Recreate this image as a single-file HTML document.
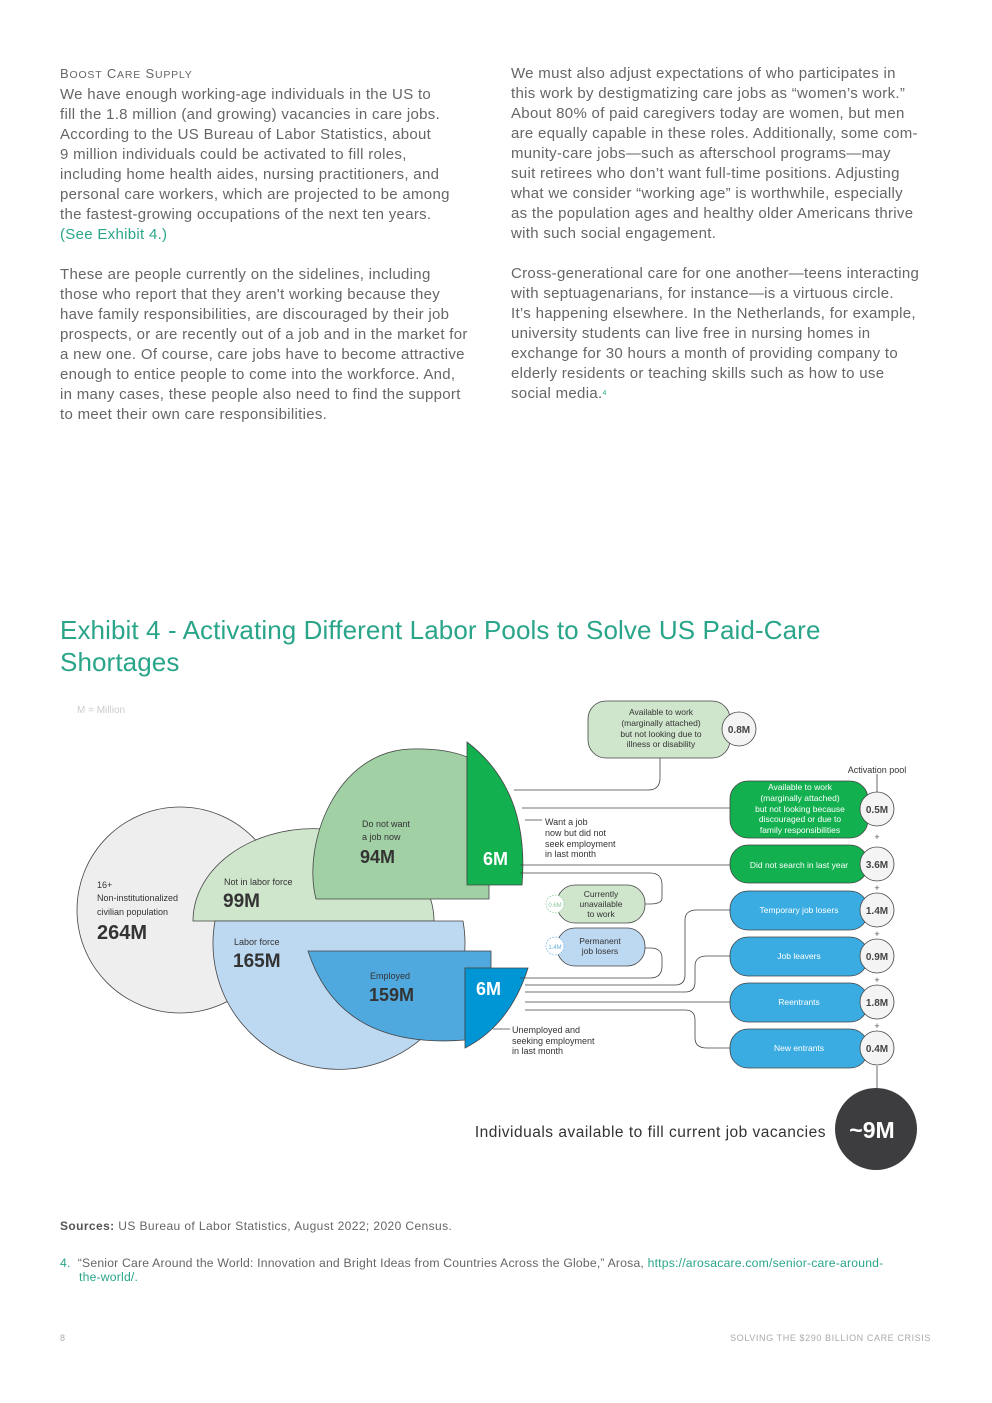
<!DOCTYPE html>
<html><head><meta charset="utf-8"><style>
body{margin:0;background:#fff;width:992px;height:1403px;position:relative;overflow:hidden;font-family:"Liberation Sans",sans-serif;}
.t{position:absolute;font-size:15px;line-height:20px;color:#666;white-space:nowrap;letter-spacing:0.3px}
.g{color:#2aa58a}
h1{position:absolute;left:60px;top:614px;margin:0;font-weight:normal;font-size:26px;line-height:32px;color:#2aa58a;letter-spacing:0.1px}
.s{position:absolute;font-size:12px;color:#666;white-space:nowrap;letter-spacing:0.4px}
</style></head><body>
<div class="t" style="left:60px;top:64px"><span style="font-size:13px;letter-spacing:0.8px">B<span style="font-size:10.5px">OOST</span> C<span style="font-size:10.5px">ARE</span> S<span style="font-size:10.5px">UPPLY</span></span><br>We have enough working-age individuals in the US to<br>fill the 1.8 million (and growing) vacancies in care jobs.<br>According to the US Bureau of Labor Statistics, about<br>9 million individuals could be activated to fill roles,<br>including home health aides, nursing practitioners, and<br>personal care workers, which are projected to be among<br>the fastest-growing occupations of the next ten years.<br><span class="g">(See Exhibit 4.)</span><br><br>These are people currently on the sidelines, including<br>those who report that they aren't working because they<br>have family responsibilities, are discouraged by their job<br>prospects, or are recently out of a job and in the market for<br>a new one. Of course, care jobs have to become attractive<br>enough to entice people to come into the workforce. And,<br>in many cases, these people also need to find the support<br>to meet their own care responsibilities.</div>
<div class="t" style="left:511px;top:64px">We must also adjust expectations of who participates in<br>this work by destigmatizing care jobs as “women’s work.”<br>About 80% of paid caregivers today are women, but men<br>are equally capable in these roles. Additionally, some com-<br>munity-care jobs—such as afterschool programs—may<br>suit retirees who don’t want full-time positions. Adjusting<br>what we consider “working age” is worthwhile, especially<br>as the population ages and healthy older Americans thrive<br>with such social engagement.<br><br>Cross-generational care for one another—teens interacting<br>with septuagenarians, for instance—is a virtuous circle.<br>It’s happening elsewhere. In the Netherlands, for example,<br>university students can live free in nursing homes in<br>exchange for 30 hours a month of providing company to<br>elderly residents or teaching skills such as how to use<br>social media.<span class="g" style="font-size:7px;vertical-align:top">4</span></div>
<h1>Exhibit 4 - Activating Different Labor Pools to Solve US Paid-Care<br>Shortages</h1>
<svg style="position:absolute;left:0;top:0" width="992" height="1403" font-family="Liberation Sans, sans-serif">
<text x="77" y="713" font-size="10" fill="#ccc">M = Million</text>
<g stroke="#444" stroke-width="0.8">
<circle cx="180" cy="910" r="103" fill="#eeeeee"/>
<path d="M193,921 A120,92 0 0 1 434,921 Z" fill="#cfe6cd"/>
<path d="M215,921 L463,921 A126,126 0 1 1 215,921 Z" fill="#bdd8f1"/>
<path d="M316,899 C302,845 335,752 410,749 Q445,748 467,757 L467,880 L489,880 L489,899 Z" fill="#a0d0a4"/>
<path d="M467,742 Q530,790 522,885 L467,885 Z" fill="#12b04f"/>
<path d="M308,951 L491,951 L491,968 L465,968 L465,1040 Q340,1050 308,951 Z" fill="#4fa9de"/>
<path d="M465,968 L528,968 Q510,1025 465,1048 Z" fill="#0096d6"/>
</g>
<g fill="none" stroke="#444" stroke-width="0.8">
<path d="M514,790 L648,790 Q660,790 660,778 L660,758"/>
<path d="M522,808 L730,808"/>
<path d="M525,820 L542,820"/>
<path d="M520,865 L730,865"/>
<path d="M520,873 L650,873 Q662,873 662,885 L662,898 Q662,904 650,904 L645,904"/>
<path d="M520,978 L650,978 Q662,978 662,966 L662,958 Q662,948 650,948 L645,948"/>
<path d="M525,985 L675,985 Q685,985 685,975 L685,920 Q685,910 697,910 L730,910"/>
<path d="M525,992 L685,992 Q695,992 695,982 L695,966 Q695,956 707,956 L730,956"/>
<path d="M525,1002 L730,1002"/>
<path d="M525,1010 L685,1010 Q695,1010 695,1020 L695,1038 Q695,1048 707,1048 L730,1048"/>
<path d="M493,1029 L510,1029"/>
<path d="M877,774 L877,792 M877,1066 L877,1090"/>
</g>
<g stroke="#444" stroke-width="0.8">
<rect x="588" y="701" width="142" height="57" rx="18" fill="#cfe6cd"/>
<rect x="730" y="781" width="138" height="57" rx="18" fill="#12b04f"/>
<rect x="730" y="845" width="138" height="38" rx="18" fill="#12b04f"/>
<rect x="730" y="891" width="138" height="39" rx="18" fill="#3aace2"/>
<rect x="730" y="937" width="138" height="39" rx="18" fill="#3aace2"/>
<rect x="730" y="983" width="138" height="39" rx="18" fill="#3aace2"/>
<rect x="730" y="1029" width="138" height="39" rx="18" fill="#3aace2"/>
<rect x="557" y="885" width="88" height="38" rx="18" fill="#cfe6cd"/>
<rect x="557" y="928" width="88" height="38" rx="18" fill="#bdd8f1"/>
<circle cx="739" cy="729" r="17" fill="#f4f4f4"/>
<circle cx="877" cy="809" r="17" fill="#f4f4f4"/>
<circle cx="877" cy="864" r="17" fill="#f4f4f4"/>
<circle cx="877" cy="910" r="17" fill="#f4f4f4"/>
<circle cx="877" cy="956" r="17" fill="#f4f4f4"/>
<circle cx="877" cy="1002" r="17" fill="#f4f4f4"/>
<circle cx="877" cy="1048" r="17" fill="#f4f4f4"/>
</g>
<circle cx="555" cy="904" r="9" fill="#fff" stroke="#8cc79a" stroke-width="0.6" stroke-dasharray="2 1"/>
<circle cx="555" cy="946" r="9" fill="#fff" stroke="#6ab0de" stroke-width="0.6" stroke-dasharray="2 1"/>
<circle cx="876" cy="1129" r="41" fill="#3d3d3f"/>
<g fill="#333" font-size="9">
<text x="97" y="888">16+</text><text x="97" y="901">Non-institutionalized</text><text x="97" y="915">civilian population</text>
<text x="97" y="939" font-size="20" font-weight="bold">264M</text>
<text x="224" y="885">Not in labor force</text><text x="223" y="907" font-size="19" font-weight="bold">99M</text>
<text x="362" y="827">Do not want</text><text x="362" y="840">a job now</text><text x="360" y="863" font-size="18" font-weight="bold">94M</text>
<text x="234" y="945">Labor force</text><text x="233" y="967" font-size="19" font-weight="bold">165M</text>
<text x="370" y="979">Employed</text><text x="369" y="1001" font-size="18" font-weight="bold">159M</text>
<text x="483" y="865" font-size="18" font-weight="bold" fill="#fff">6M</text>
<text x="476" y="995" font-size="18" font-weight="bold" fill="#fff">6M</text>
<text x="545" y="825">Want a job</text><text x="545" y="836">now but did not</text><text x="545" y="847">seek employment</text><text x="545" y="857">in last month</text>
<text x="512" y="1033">Unemployed and</text><text x="512" y="1044">seeking employment</text><text x="512" y="1054">in last month</text>
<text x="877" y="773" text-anchor="middle">Activation pool</text>
</g>
<g font-size="8.5" text-anchor="middle" fill="#333">
<text x="661" y="715">Available to work</text><text x="661" y="726">(marginally attached)</text><text x="661" y="737">but not looking due to</text><text x="661" y="747">illness or disability</text>
<text x="601" y="897">Currently</text><text x="601" y="907">unavailable</text><text x="601" y="917">to work</text>
<text x="600" y="944">Permanent</text><text x="600" y="954">job losers</text>
<g fill="#fff"><text x="800" y="790">Available to work</text><text x="800" y="801">(marginally attached)</text><text x="800" y="812">but not looking because</text><text x="800" y="822">discouraged or due to</text><text x="800" y="833">family responsibilities</text>
<text x="799" y="868">Did not search in last year</text>
<text x="799" y="913">Temporary job losers</text><text x="799" y="959">Job leavers</text><text x="799" y="1005">Reentrants</text><text x="799" y="1051">New entrants</text></g>
<g font-weight="bold" font-size="10" fill="#444"><text x="739" y="733">0.8M</text><text x="877" y="813">0.5M</text><text x="877" y="868">3.6M</text><text x="877" y="914">1.4M</text><text x="877" y="960">0.9M</text><text x="877" y="1006">1.8M</text><text x="877" y="1052">0.4M</text></g>
<text x="555" y="907" font-size="6" fill="#8cc79a">0.6M</text><text x="555" y="949" font-size="6" fill="#6ab0de">1.4M</text>
<g font-size="9" fill="#555"><text x="877" y="840">+</text><text x="877" y="891">+</text><text x="877" y="937">+</text><text x="877" y="983">+</text><text x="877" y="1029">+</text></g>
</g>
<text x="826" y="1137" font-size="15.5" fill="#333" text-anchor="end" letter-spacing="0.5">Individuals available to fill current job vacancies</text>
<text x="872" y="1138" font-size="23" font-weight="bold" fill="#fff" text-anchor="middle">~9M</text>
</svg>
<div class="s" style="left:60px;top:1219px"><b style="color:#555">Sources:</b> US Bureau of Labor Statistics, August 2022; 2020 Census.</div>
<div class="s" style="left:60px;top:1256px;line-height:14px;font-size:12.2px;letter-spacing:0.2px"><span class="g">4.</span>&nbsp;&nbsp;“Senior Care Around the World: Innovation and Bright Ideas from Countries Across the Globe,” Arosa, <span class="g">https://arosacare.com/senior-care-around-</span><br><span class="g" style="padding-left:19px">the-world/.</span></div>
<div class="s" style="left:60px;top:1333px;font-size:9px;color:#aaa">8</div>
<div class="s" style="right:61px;top:1333px;font-size:9px;color:#aaa;letter-spacing:0.6px">SOLVING THE $290 BILLION CARE CRISIS</div>
</body></html>
